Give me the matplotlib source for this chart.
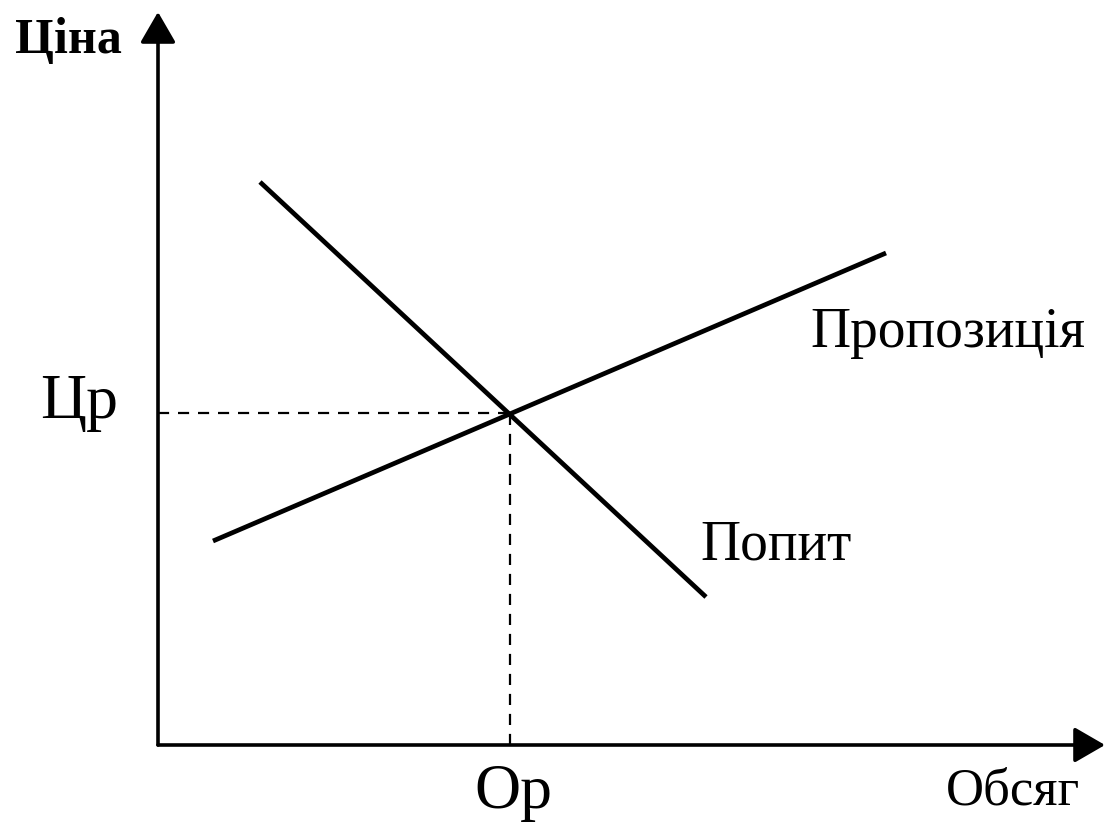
import matplotlib
matplotlib.use("Agg")
import matplotlib.pyplot as plt

# Data (conceptual units; origin at axes intersection)
demand_q = [1.02, 5.48]
demand_p = [5.63, 1.48]
supply_q = [0.55, 7.28]
supply_p = [2.04, 4.92]
eq_q = 3.52
eq_p = 3.32
x_axis_end = 9.47
y_axis_end = 7.33

labels = {
    "price": "Ціна",
    "volume": "Обсяг",
    "eq_price": "Цр",
    "eq_volume": "Ор",
    "supply": "Пропозиція",
    "demand": "Попит",
}

plt.rcParams['font.family'] = ['Liberation Serif', 'DejaVu Serif']

fig = plt.figure(figsize=(11.07, 8.22), dpi=100)
ax = fig.add_axes([0, 0, 1, 1])
ax.set_xlim(-1.58, 9.49)
ax.set_ylim(-0.77, 7.45)
ax.axis('off')

# Axes with arrows
arrow_style = '-|>,head_length=1.9,head_width=1.1'
ax.annotate('', xy=(x_axis_end, 0), xytext=(0, 0),
            arrowprops=dict(arrowstyle=arrow_style, lw=2.6, color='black',
                            shrinkA=0, shrinkB=0))
ax.annotate('', xy=(0, y_axis_end), xytext=(0, 0),
            arrowprops=dict(arrowstyle=arrow_style, lw=2.6, color='black',
                            shrinkA=0, shrinkB=0))

# Curves
ax.plot(demand_q, demand_p, color='black', lw=3.4, solid_capstyle='butt')
ax.plot(supply_q, supply_p, color='black', lw=3.4, solid_capstyle='butt')

# Dashed guides
ax.plot([0, eq_q], [eq_p, eq_p], color='black', lw=1.6, ls=(0, (5, 4)))
ax.plot([eq_q, eq_q], [0, eq_p], color='black', lw=1.6, ls=(0, (5, 4)))

# Labels
ax.text(-1.43, 7.05, labels["price"], fontsize=36, fontweight='bold', ha='left', va='center')
ax.text(-1.18, 3.42, labels["eq_price"], fontsize=46, ha='left', va='center')
ax.text(eq_q + 0.03, -0.48, labels["eq_volume"], fontsize=46, ha='center', va='center')
ax.text(9.22, -0.46, labels["volume"], fontsize=38, ha='right', va='center')
ax.text(6.52, 4.12, labels["supply"], fontsize=40, ha='left', va='center')
ax.text(5.42, 2.0, labels["demand"], fontsize=40, ha='left', va='center')

fig.savefig('out.png', dpi=100)
